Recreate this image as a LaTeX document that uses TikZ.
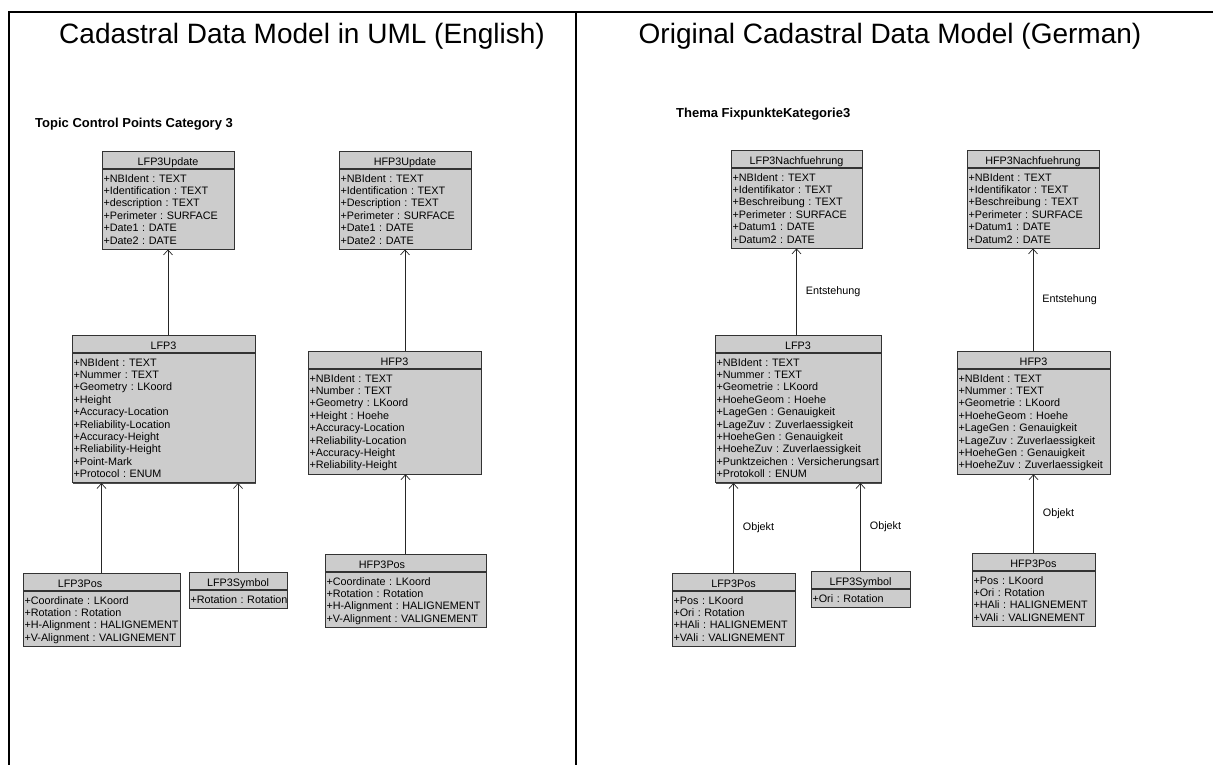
\documentclass[tikz,border=0pt]{standalone}
\usepackage{fontspec}
\setmainfont{Liberation Sans}
\usetikzlibrary{positioning,arrows.meta,shadows}
\definecolor{classgray}{RGB}{204,204,204}
\tikzset{
  classhead/.style={draw=black!80, fill=classgray, line width=0.7pt, inner sep=0pt, anchor=north,
    minimum height=17pt, text height=10.8pt, text depth=0pt,
    font=\fontsize{10.8}{12.4}\selectfont,
    drop shadow={shadow xshift=1pt, shadow yshift=-1pt, fill=black!70, opacity=1}},
  classbody/.style={draw=black!80, fill=classgray, line width=0.7pt, inner xsep=1.5pt, inner ysep=2.8pt,
    align=left, font=\fontsize{10.8}{12.4}\selectfont,
    execute at begin node={\rule{0pt}{10.2pt}},
    execute at end node={\rule[-2.2pt]{0pt}{2.2pt}},
    drop shadow={shadow xshift=1pt, shadow yshift=-1pt, fill=black!70, opacity=1}},
  assoc/.style={draw=black!85, line width=0.7pt, -{Straight Barb[length=5pt,width=9pt]}},
  rolelabel/.style={anchor=west, inner sep=0pt, xshift=9pt, font=\fontsize{10.8}{12.4}\selectfont}
}
\begin{document}
\begin{tikzpicture}[x=1pt, y=-1pt]
  \useasboundingbox (0,0) rectangle (1213,765);
  % frame
  \draw[line width=1.6pt] (1213,12) -- (9,12) -- (9,765);
  \draw[line width=1.6pt] (576,12) -- (576,765);
  \node[font=\fontsize{28}{32}\selectfont, anchor=base] (titleen) at (302,44) {Cadastral Data Model in UML (English)};
  \node[font=\fontsize{28}{32}\selectfont, anchor=base] (titlede) at (890,44) {Original Cadastral Data Model (German)};
  \node[font=\fontsize{13}{15}\selectfont\bfseries, anchor=base west, inner sep=0pt] (topicen) at (35,127.5) {Topic Control Points Category 3};
  \node[font=\fontsize{13}{15}\selectfont\bfseries, anchor=base west, inner sep=0pt] (topicde) at (676,117.5) {Thema FixpunkteKategorie3};
  % English model
  \node[classhead, minimum width=132pt] (lfpu-h) at (168,151) {LFP3Update};
  \node[classbody, text width=129pt, below=0pt of lfpu-h] (lfpu) {+NBIdent~:~TEXT\\+Identification~:~TEXT\\+description~:~TEXT\\+Perimeter~:~SURFACE\\+Date1~:~DATE\\+Date2~:~DATE};
  \node[classhead, minimum width=132pt] (hfpu-h) at (405,151) {HFP3Update};
  \node[classbody, text width=129pt, below=0pt of hfpu-h] (hfpu) {+NBIdent~:~TEXT\\+Identification~:~TEXT\\+Description~:~TEXT\\+Perimeter~:~SURFACE\\+Date1~:~DATE\\+Date2~:~DATE};
  \node[classhead, minimum width=183pt] (lfp-h) at (163.5,335) {LFP3};
  \node[classbody, text width=180pt, below=0pt of lfp-h] (lfp) {+NBIdent~:~TEXT\\+Nummer~:~TEXT\\+Geometry~:~LKoord\\+Height\\+Accuracy-Location\\+Reliability-Location\\+Accuracy-Height\\+Reliability-Height\\+Point-Mark\\+Protocol~:~ENUM};
  \node[classhead, minimum width=173pt] (hfp-h) at (394.5,351) {HFP3};
  \node[classbody, text width=170pt, below=0pt of hfp-h] (hfp) {+NBIdent~:~TEXT\\+Number~:~TEXT\\+Geometry~:~LKoord\\+Height~:~Hoehe\\+Accuracy-Location\\+Reliability-Location\\+Accuracy-Height\\+Reliability-Height};
  \node[classhead, minimum width=157pt] (lfppos-h) at (101.5,573) {LFP3Pos\hspace*{43pt}};
  \node[classbody, text width=154pt, below=0pt of lfppos-h] (lfppos) {+Coordinate~:~LKoord\\+Rotation~:~Rotation\\+H-Alignment~:~HALIGNEMENT\\+V-Alignment~:~VALIGNEMENT};
  \node[classhead, minimum width=98pt] (lfpsym-h) at (238,572) {LFP3Symbol};
  \node[classbody, text width=95pt, below=0pt of lfpsym-h] (lfpsym) {+Rotation~:~Rotation};
  \node[classhead, minimum width=161pt] (hfppos-h) at (405.5,554) {HFP3Pos\hspace*{47pt}};
  \node[classbody, text width=158pt, below=0pt of hfppos-h] (hfppos) {+Coordinate~:~LKoord\\+Rotation~:~Rotation\\+H-Alignment~:~HALIGNEMENT\\+V-Alignment~:~VALIGNEMENT};
  % German model
  \node[classhead, minimum width=131pt] (glfpu-h) at (796.5,150) {LFP3Nachfuehrung};
  \node[classbody, text width=128pt, below=0pt of glfpu-h] (glfpu) {+NBIdent~:~TEXT\\+Identifikator~:~TEXT\\+Beschreibung~:~TEXT\\+Perimeter~:~SURFACE\\+Datum1~:~DATE\\+Datum2~:~DATE};
  \node[classhead, minimum width=132pt] (ghfpu-h) at (1033,150) {HFP3Nachfuehrung};
  \node[classbody, text width=129pt, below=0pt of ghfpu-h] (ghfpu) {+NBIdent~:~TEXT\\+Identifikator~:~TEXT\\+Beschreibung~:~TEXT\\+Perimeter~:~SURFACE\\+Datum1~:~DATE\\+Datum2~:~DATE};
  \node[classhead, minimum width=166pt] (glfp-h) at (798,335) {LFP3};
  \node[classbody, text width=163pt, below=0pt of glfp-h] (glfp) {+NBIdent~:~TEXT\\+Nummer~:~TEXT\\+Geometrie~:~LKoord\\+HoeheGeom~:~Hoehe\\+LageGen~:~Genauigkeit\\+LageZuv~:~Zuverlaessigkeit\\+HoeheGen~:~Genauigkeit\\+HoeheZuv~:~Zuverlaessigkeit\\+Punktzeichen~:~Versicherungsart\\+Protokoll~:~ENUM};
  \node[classhead, minimum width=153pt] (ghfp-h) at (1033.5,351) {HFP3};
  \node[classbody, text width=150pt, below=0pt of ghfp-h] (ghfp) {+NBIdent~:~TEXT\\+Nummer~:~TEXT\\+Geometrie~:~LKoord\\+HoeheGeom~:~Hoehe\\+LageGen~:~Genauigkeit\\+LageZuv~:~Zuverlaessigkeit\\+HoeheGen~:~Genauigkeit\\+HoeheZuv~:~Zuverlaessigkeit};
  \node[classhead, minimum width=123pt] (glfppos-h) at (733.5,573) {LFP3Pos};
  \node[classbody, text width=120pt, below=0pt of glfppos-h] (glfppos) {+Pos~:~LKoord\\+Ori~:~Rotation\\+HAli~:~HALIGNEMENT\\+VAli~:~VALIGNEMENT};
  \node[classhead, minimum width=99pt] (glfpsym-h) at (860.5,571) {LFP3Symbol};
  \node[classbody, text width=96pt, below=0pt of glfpsym-h] (glfpsym) {+Ori~:~Rotation};
  \node[classhead, minimum width=123pt] (ghfppos-h) at (1033.5,553) {HFP3Pos};
  \node[classbody, text width=120pt, below=0pt of ghfppos-h] (ghfppos) {+Pos~:~LKoord\\+Ori~:~Rotation\\+HAli~:~HALIGNEMENT\\+VAli~:~VALIGNEMENT};
  \begin{scope}[assoc]
    \draw (lfpu.south |- lfp-h.north) to (lfpu.south);
    \draw (hfpu.south |- hfp-h.north) to (hfpu.south);
    \draw (lfppos-h.north) to (lfppos-h.north |- lfp.south);
    \draw (lfpsym-h.north) to (lfpsym-h.north |- lfp.south);
    \draw (hfppos-h.north) to (hfppos-h.north |- hfp.south);
    \draw (glfpu.south |- glfp-h.north) to node[rolelabel] {Entstehung} (glfpu.south);
    \draw (ghfpu.south |- ghfp-h.north) to node[rolelabel] {Entstehung} (ghfpu.south);
    \draw (glfppos-h.north) to node[rolelabel] {Objekt} (glfppos-h.north |- glfp.south);
    \draw (glfpsym-h.north) to node[rolelabel] {Objekt} (glfpsym-h.north |- glfp.south);
    \draw (ghfppos-h.north) to node[rolelabel] {Objekt} (ghfppos-h.north |- ghfp.south);
  \end{scope}
\end{tikzpicture}
\end{document}
